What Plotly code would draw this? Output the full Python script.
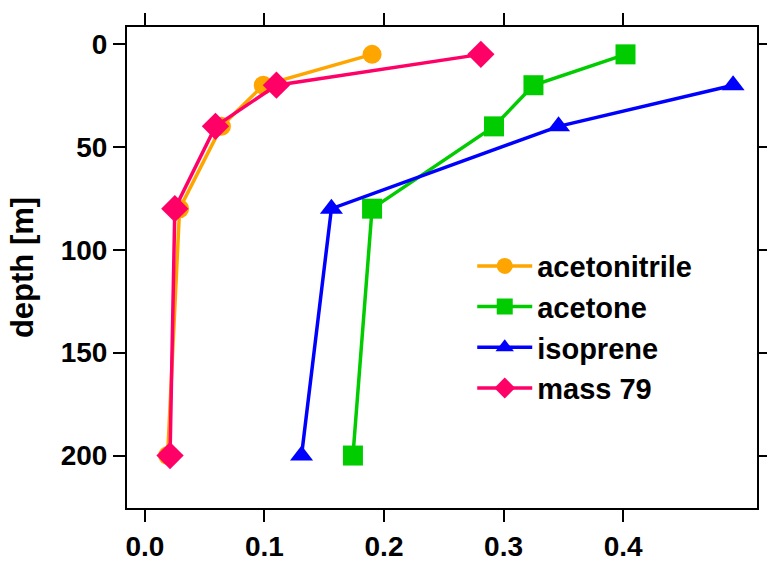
import plotly.graph_objects as go

# Data
acn_x = [0.19, 0.099, 0.064, 0.029, 0.019]
acn_y = [5, 20, 40, 80, 200]
acetone_x = [0.402, 0.325, 0.292, 0.19, 0.174]
acetone_y = [5, 20, 40, 80, 200]
isoprene_x = [0.492, 0.346, 0.156, 0.131]
isoprene_y = [20, 40, 80, 200]
m79_x = [0.281, 0.110, 0.059, 0.025, 0.021]
m79_y = [5, 20, 40, 80, 200]

x_ticks = [0.0, 0.1, 0.2, 0.3, 0.4]
x_ticklabels = ["0.0", "0.1", "0.2", "0.3", "0.4"]
y_ticks = [0, 50, 100, 150, 200]

FONT = "Liberation Sans"

fig = go.Figure()
series = [
    ("acetonitrile", acn_x, acn_y, "#FFA500", "circle", 19),
    ("acetone", acetone_x, acetone_y, "#00CC00", "square", 20),
    ("isoprene", isoprene_x, isoprene_y, "#0000FF", "triangle-up", 20),
    ("mass 79", m79_x, m79_y, "#FF0066", "diamond", 21),
]
for name, xs, ys, col, sym, sz in series:
    fig.add_trace(go.Scatter(
        x=xs, y=ys, name=name, mode="lines+markers",
        line=dict(color=col, width=3.5),
        marker=dict(color=col, symbol=sym, size=sz, line=dict(width=0)),
    ))

axis_common = dict(
    showline=True, linewidth=2, linecolor="black", mirror="ticks",
    ticks="outside", ticklen=12, tickwidth=2, tickcolor="black",
    showgrid=False, zeroline=False, automargin=False,
    tickfont=dict(family=FONT, size=28, color="black", weight="bold"),
)

fig.update_layout(
    width=767, height=565,
    margin=dict(l=127, r=10, t=27, b=57),
    plot_bgcolor="white", paper_bgcolor="white",
    xaxis=dict(range=[-0.015, 0.512], tickvals=x_ticks, ticktext=x_ticklabels, **axis_common),
    yaxis=dict(range=[225.5, -8.3], tickvals=y_ticks,
               title=dict(text="depth [m]", font=dict(family=FONT, size=31, color="black", weight="bold"), standoff=18),
               **axis_common),
    showlegend=True,
    legend=dict(x=0.548, y=0.556, xanchor="left", yanchor="top",
                font=dict(family=FONT, size=29, color="black", weight="bold"),
                bgcolor="rgba(0,0,0,0)", tracegroupgap=0, itemwidth=55),
)

fig.write_html("out.html")
